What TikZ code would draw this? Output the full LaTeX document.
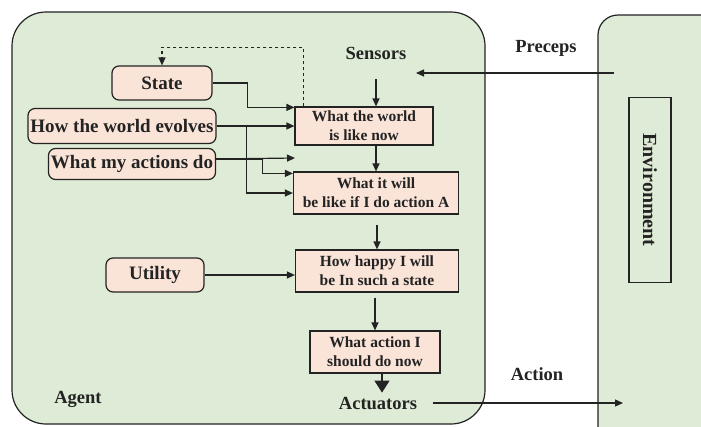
\documentclass[tikz,border=0pt]{standalone}
\usepackage{fontspec}
\setmainfont{Liberation Serif}
\usetikzlibrary{arrows.meta}
\definecolor{agentgreen}{RGB}{222,235,214}
\definecolor{boxpink}{RGB}{250,227,215}
\definecolor{linegray}{RGB}{35,35,35}
\tikzset{
  lbox/.style={draw=linegray, fill=boxpink, rounded corners=7pt, line width=1.2pt,
    inner sep=0pt, text=linegray, font=\fontsize{19}{21}\selectfont\bfseries},
  rbox/.style={draw=linegray, fill=boxpink, line width=1.2pt, inner sep=0pt,
    align=center, text=linegray, font=\fontsize{15.5}{19}\selectfont\bfseries},
  lbl/.style={text=linegray, font=\fontsize{18.5}{20}\selectfont\bfseries},
  conn/.style={draw=linegray, line width=1.2pt, -{Triangle[length=8pt,width=7pt]}},
}
\begin{document}
\begin{tikzpicture}[x=1pt,y=-1pt]
    \useasboundingbox (0,0) rectangle (701,426);
    \clip (0,0) rectangle (701,426);
    \fill [white] (0,0) rectangle (701,426);
    \filldraw [fill=agentgreen, draw=linegray, line width=1.2pt, rounded corners=34pt]
        (12,12) rectangle (485,424);
    \filldraw [fill=agentgreen, draw=linegray, line width=1.2pt, rounded corners=20pt]
        (598,15) rectangle (760,480);

    \node[rbox, minimum width=138pt, minimum height=38pt] (world) at (364,126) {What the world\\is like now};
    \node[rbox, minimum width=165pt, minimum height=42pt] (willbe) at (376,193) {What it will\\be like if I do action A};
    \node[rbox, minimum width=163pt, minimum height=42pt] (happy) at (377,271) {How happy I will\\be In such a state};
    \node[rbox, minimum width=130pt, minimum height=42pt] (todo) at (375,352) {What action I\\should do now};

    \node[lbox, minimum width=100pt, minimum height=34pt] (state) at (162,83) {State};
    \node[lbox, minimum width=188pt, minimum height=35pt] (evolves) at (122,126) {How the world evolves};
    \node[lbox, minimum width=167pt, minimum height=31pt] (actdo) at (132,164) {What my actions do};
    \node[lbox, minimum width=98pt, minimum height=34pt] (utility) at (155,275) {Utility};

    \node[lbl] (sensors) at (376,53) {Sensors};
    \node[lbl] (actuators) at (378,403) {Actuators};
    \node[lbl] (preceps) at (546,48) {Preceps};
    \node[lbl] (action) at (537,374) {Action};
    \node[lbl] (agent) at (78,399) {Agent};
    \node[draw=linegray, line width=1.2pt, fill=agentgreen, rotate=-90, minimum width=185pt,
        minimum height=42pt, lbl, font=\fontsize{20}{22}\selectfont\bfseries] (env) at (650,190) {Environment};

    \coordinate (percin) at (614,73);
    \coordinate (percout) at (416,73);
    \coordinate (gap) at (295,158);
    \coordinate (toenv) at (623,401);

    \draw[conn] (percin) -- (percout);
    \draw[conn] ([yshift=-16pt]sensors.south) -- (sensors.south |- world.north);
    \draw[conn] (willbe.north |- world.south) -- (willbe.north);
    \draw[conn] ([yshift=-10pt]happy.north |- willbe.south) -- (happy.north);
    \draw[conn] ([yshift=-5pt]todo.north |- happy.south) -- (todo.north);
    \draw[draw=linegray, line width=1.2pt, -{Triangle[length=12pt,width=15pt]}]
        ([xshift=7pt]todo.south) -- ++(0,19);
    \draw[conn] ([xshift=12pt]actuators.east) -- (actuators.east -| toenv);

    \draw[conn] (state.east) -- ++(35,0) |- ([yshift=-1pt]world.north west);
    \draw[conn] (evolves.east) -- (evolves.east -| world.west);
    \draw[conn] (evolves.east) -- ++(30,0) |- (willbe.west);
    \draw[conn] ([yshift=5pt]actdo.east) -- (gap);
    \draw[conn] ([yshift=5pt]actdo.east) -- ++(46,0) |- ([yshift=-2pt]willbe.north west);
    \draw[conn, dashed] ([xshift=9pt]world.north west) -- ++(0,-59) -| (state.north);
    \draw[conn] (utility.east) -- (utility.east -| happy.west);
\end{tikzpicture}
\end{document}
